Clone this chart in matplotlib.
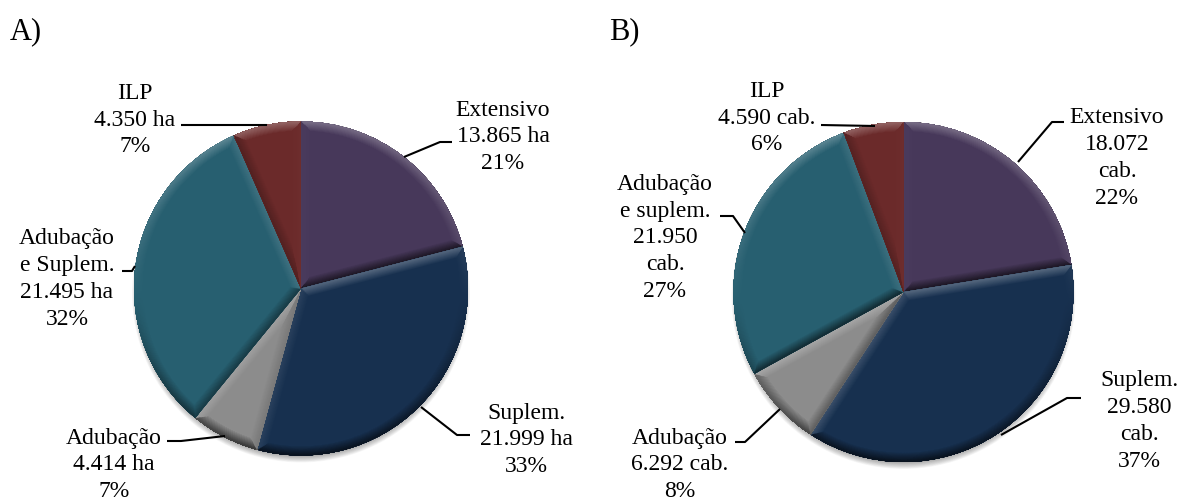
import numpy as np
import matplotlib
matplotlib.use('Agg')
import matplotlib.pyplot as plt
from matplotlib.collections import LineCollection
from matplotlib.colors import to_rgb
from matplotlib.patches import Circle

plt.rcParams['font.family'] = ['Liberation Serif', 'DejaVu Serif']

colors = ['#47385a', '#17304f', '#8c8c8c', '#275f70', '#6b2a2a']
values_a = [13865, 21999, 4414, 21495, 4350]
values_b = [18072, 29580, 6292, 21950, 4590]

labels_a = ['ILP\n4.350 ha\n7%', 'Extensivo\n13.865 ha\n21%', 'Adubação\ne Suplem.\n21.495 ha\n32%',
            'Suplem.\n21.999 ha\n33%', 'Adubação\n4.414 ha\n7%']
labels_b = ['ILP\n4.590 cab.\n6%', 'Extensivo\n18.072\ncab.\n22%', 'Adubação\ne suplem.\n21.950\ncab.\n27%',
            'Suplem.\n29.580\ncab.\n37%', 'Adubação\n6.292 cab.\n8%']

# label centres in pixels
pos_a = [(135, 120), (503, 137), (67, 279), (526, 440), (114, 465)]
pos_b = [(767, 118), (1117, 158), (665, 238), (1139, 421), (680, 465)]

leaders_a = [[(181, 126), (267, 126)],
             [(452, 143), (440, 143), (404, 158)],
             [(122, 272), (132, 272), (135, 267)],
             [(470, 436), (457, 436), (421, 408)],
             [(167, 442), (181, 442), (225, 437)]]
leaders_b = [[(821, 126), (875, 127)],
             [(1064, 123), (1052, 123), (1018, 163)],
             [(720, 217), (733, 217), (745, 234)],
             [(1081, 399), (1067, 399), (1001, 436)],
             [(735, 443), (745, 443), (780, 410)]]


def blend(c, target, t):
    c = np.array(to_rgb(c))
    return tuple(c + (np.array(target) - c) * t)


def shade(base, n_up, k):
    # n_up: +1 faces the top of the page, -1 faces the bottom
    if n_up > 0:
        return blend(base, (1, 1, 1), 0.3 * n_up * k)
    return blend(base, (0, 0, 0), 0.8 * -n_up * k)


def bevel(ax, wedge, base, width=9):
    cx, cy = wedge.center
    r = wedge.r
    t1, t2 = np.radians(wedge.theta1), np.radians(wedge.theta2)
    th = np.linspace(t1, t2, 120)
    px = cx + r * np.cos(th)
    py = cy + r * np.sin(th)
    segs = [[(px[i], py[i]), (px[i + 1], py[i + 1])] for i in range(len(th) - 1)]
    ups = list(-np.sin((th[:-1] + th[1:]) / 2))
    segs.append([(cx, cy), (px[0], py[0])])
    ups.append(np.cos(t1))
    segs.append([(cx, cy), (px[-1], py[-1])])
    ups.append(-np.cos(t2))
    for f in np.linspace(1, 0.12, 10):
        k = 1.12 - f
        cols = [shade(base, u * 0.8 + 0.05, k) for u in ups]
        lc = LineCollection(segs, colors=cols, linewidths=2 * width * f * 0.72,
                            capstyle='round', zorder=3)
        ax.add_collection(lc)
        lc.set_clip_path(wedge)


def draw_pie(ax, values, center, radius):
    for i in range(12):
        ax.add_patch(Circle((center[0], center[1] + 5), radius + 2 - i * 0.6,
                            fc='black', ec='none', alpha=0.03, zorder=1))
    wedges, _ = ax.pie(values, colors=colors, center=center, radius=radius,
                       startangle=-90, counterclock=True,
                       wedgeprops={'zorder': 2})
    for w, c in zip(wedges, colors):
        bevel(ax, w, c)


def draw_labels(ax, labels, pos, leaders):
    for s, (x, y) in zip(labels, pos):
        ax.text(x, y, s, ha='center', va='center', fontsize=17, linespacing=1.37,
                color='black', zorder=5)
    for pts in leaders:
        xs, ys = zip(*pts)
        ax.plot(xs, ys, color='black', lw=1.5, solid_capstyle='butt', zorder=5)


fig = plt.figure(figsize=(11.77, 5.02), dpi=100)
ax = fig.add_axes([0, 0, 1, 1])

draw_pie(ax, values_a, (301, 289.5), 167)
draw_pie(ax, values_b, (903.5, 293), 170)
draw_labels(ax, labels_a, pos_a, leaders_a)
draw_labels(ax, labels_b, pos_b, leaders_b)

ax.text(10, 32, 'A)', fontsize=22, ha='left', va='center')
ax.text(609, 32, 'B)', fontsize=22, ha='left', va='center')

ax.set_aspect('auto')
ax.set_xlim(0, 1177)
ax.set_ylim(502, 0)
ax.axis('off')

plt.savefig('out.png', dpi=100)
